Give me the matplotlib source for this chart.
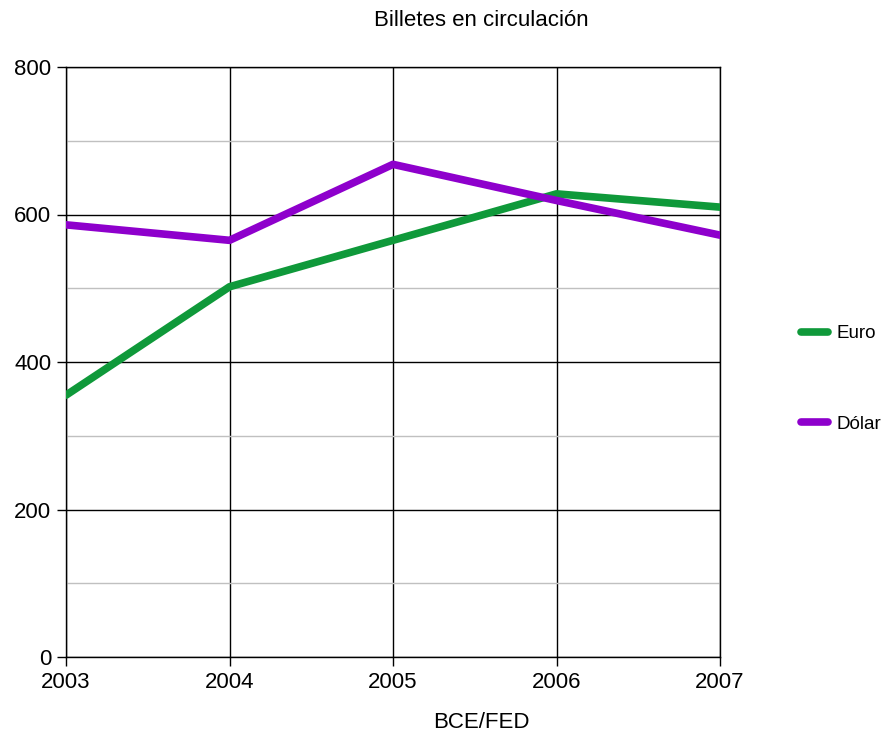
import matplotlib
matplotlib.use("Agg")
import matplotlib.pyplot as plt
import numpy as np

plt.rcParams['font.family'] = ['Liberation Sans', 'DejaVu Sans']

years = [2003, 2004, 2005, 2006, 2007]
euro = [355, 502, 565, 628, 610]
dolar = [586, 565, 668, 619, 572]

green = "#0f993a"
purple = "#8e00cc"

fig = plt.figure(figsize=(8.94, 7.36), dpi=100)
ax = fig.add_axes([66/894, 1-657/736, (720-66)/894, (657-67)/736])

ax.plot(years, euro, color=green, linewidth=5.5, label="Euro", solid_capstyle="round", zorder=3)
ax.plot(years, dolar, color=purple, linewidth=5.5, label="Dólar", solid_capstyle="round", zorder=3)

ax.set_xlim(2003, 2007)
ax.set_ylim(0, 800)
ax.set_xticks(years)
ax.set_yticks([0, 200, 400, 600, 800])
ax.set_yticks([100, 300, 500, 700], minor=True)
ax.grid(which="major", color="black", linewidth=1)
ax.grid(which="minor", axis="y", color="#c0c0c0", linewidth=1)
ax.tick_params(which="major", length=6.5, width=1, labelsize=16, direction="out")
ax.tick_params(axis="x", pad=4)
ax.tick_params(axis="y", pad=4)
ax.tick_params(which="minor", length=0)
for s in ax.spines.values():
    s.set_linewidth(1)
    s.set_color("black")

fig.text(481/894, 1-20/736, "Billetes en circulación", ha="center", va="center", fontsize=16)
fig.text(481/894, 1-722/736, "BCE/FED", ha="center", va="center", fontsize=16)

leg = ax.legend(loc="center left", bbox_to_anchor=(801/894, 1-379/736), bbox_transform=fig.transFigure,
                frameon=False, fontsize=13.5, labelspacing=3.9, handlelength=1.45, handletextpad=0.45,
                borderaxespad=0, borderpad=0)

fig.savefig("out.png", dpi=100)
